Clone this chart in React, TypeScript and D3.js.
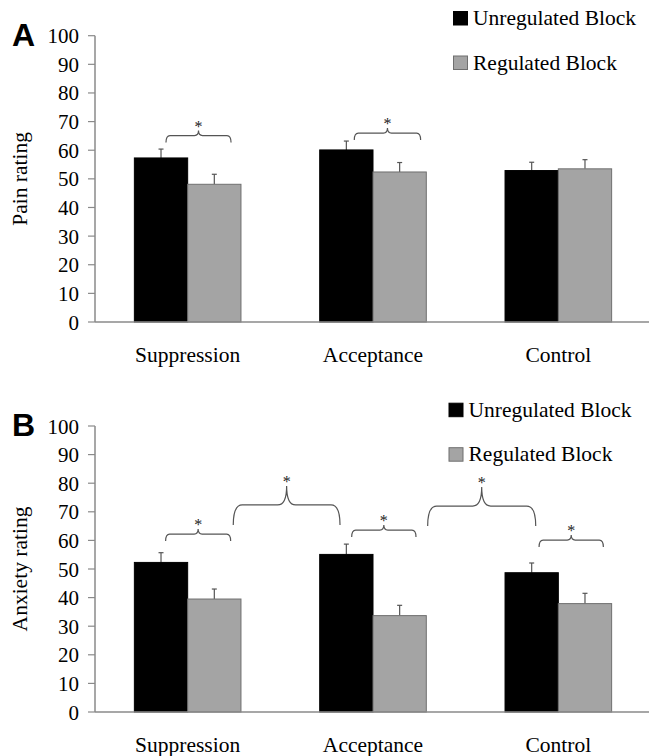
import * as d3 from 'd3'

// categories and series
const categories = ['Suppression', 'Acceptance', 'Control']
const seriesNames = ['Unregulated Block', 'Regulated Block']

// panel A: pain rating (mean, SE)
const painUnregulated = [57.3, 60.1, 52.9]
const painUnregulatedErr = [3.1, 3.1, 2.9]
const painRegulated = [48.1, 52.4, 53.5]
const painRegulatedErr = [3.5, 3.3, 3.2]

// panel B: anxiety rating (mean, SE)
const anxUnregulated = [52.3, 55.1, 48.7]
const anxUnregulatedErr = [3.4, 3.6, 3.4]
const anxRegulated = [39.5, 33.7, 37.9]
const anxRegulatedErr = [3.5, 3.6, 3.6]

const yTicks = [0, 10, 20, 30, 40, 50, 60, 70, 80, 90, 100]

// significance brackets: from/to in category units, level in rating units
const painBrackets = [
  { from: -0.117, to: 0.234, level: 65.1 },
  { from: 0.899, to: 1.257, level: 66.0 },
]
const anxBrackets = [
  { from: -0.119, to: 0.232, level: 62.2 },
  { from: 0.246, to: 0.822, level: 72.4 },
  { from: 0.885, to: 1.232, level: 63.6 },
  { from: 1.295, to: 1.878, level: 72.0 },
  { from: 1.896, to: 2.243, level: 60.1 },
]

const WIDTH = 649
const HEIGHT = 756
const AXIS_X = 95
const PLOT_RIGHT = 651
const SERIF = "'Liberation Serif', 'DejaVu Serif', serif"
const COLORS = ['#000000', '#a4a4a4']
const STROKES = ['#000000', '#6f6f6f']

function bracketPath(x1: number, x2: number, y: number, big: boolean) {
  const d = big ? 20 : 7
  const t = big ? 19 : 5
  const r = big ? 9 : 4
  const xm = (x1 + x2) / 2
  return [
    `M${x1},${y + d}`,
    `Q${x1},${y} ${x1 + r},${y}`,
    `L${xm - r},${y}`,
    `Q${xm},${y} ${xm},${y - t}`,
    `Q${xm},${y} ${xm + r},${y}`,
    `L${x2 - r},${y}`,
    `Q${x2},${y} ${x2},${y + d}`,
  ].join(' ')
}

function Panel({ letter, yLabel, top, bottom, series, errors, brackets, legendX, legendY }) {
  const xBand = d3.scaleBand().domain(categories).range([AXIS_X, PLOT_RIGHT])
  const step = xBand.bandwidth()
  const xSub = d3.scaleBand().domain(seriesNames).range([step / 2 - 53.3, step / 2 + 53.3])
  const xCat = d3.scaleLinear().domain([-0.5, categories.length - 0.5]).range([AXIS_X, PLOT_RIGHT])
  const y = d3.scaleLinear().domain([0, 100]).range([bottom, top])
  const serif = { fontFamily: SERIF }

  return (
    <g>
      <text x={12} y={top + 10} style={{ fontFamily: "'Liberation Sans', Arial, sans-serif" }} fontWeight="bold" fontSize={32}>
        {letter}
      </text>

      {/* bars */}
      {categories.map((cat, ci) => (
        <g key={cat} transform={`translate(${xBand(cat)},0)`}>
          {seriesNames.map((s, si) => {
            const v = series[si][ci]
            const e = errors[si][ci]
            const bx = xSub(s)
            const bw = xSub.bandwidth()
            const cx = bx + bw / 2
            return (
              <g key={s}>
                <line x1={cx} x2={cx} y1={y(v)} y2={y(v + e)} stroke="#555" strokeWidth={1.2} />
                <line x1={cx - 2.5} x2={cx + 2.5} y1={y(v + e)} y2={y(v + e)} stroke="#555" strokeWidth={1.2} />
                <rect x={bx} y={y(v)} width={bw} height={y(0) - y(v)} fill={COLORS[si]} stroke={STROKES[si]} strokeWidth={1} />
              </g>
            )
          })}
          <text x={step / 2} y={bottom + 39.5} textAnchor="middle" style={serif} fontSize={21.5}>
            {cat}
          </text>
        </g>
      ))}

      {/* axes */}
      <line x1={AXIS_X} x2={AXIS_X} y1={y(100)} y2={y(0)} stroke="#8a8a8a" strokeWidth={1.5} />
      <line x1={AXIS_X} x2={PLOT_RIGHT} y1={y(0)} y2={y(0)} stroke="#8a8a8a" strokeWidth={1.5} />
      {yTicks.map(t => (
        <g key={t} transform={`translate(0,${y(t)})`}>
          <line x1={AXIS_X - 7} x2={AXIS_X} stroke="#8a8a8a" strokeWidth={1.2} />
          <text x={AXIS_X - 16} y={7.5} textAnchor="end" style={serif} fontSize={21}>
            {t}
          </text>
        </g>
      ))}
      <text
        transform={`translate(27,${(y(0) + y(100)) / 2}) rotate(-90)`}
        textAnchor="middle"
        style={serif}
        fontSize={21.5}
      >
        {yLabel}
      </text>

      {/* significance brackets */}
      {brackets.map((b, i) => {
        const x1 = xCat(b.from)
        const x2 = xCat(b.to)
        const big = b.to - b.from > 0.45
        const ly = y(b.level)
        const tipY = ly - (big ? 19 : 5)
        return (
          <g key={i}>
            <path d={bracketPath(x1, x2, ly, big)} fill="none" stroke="#555" strokeWidth={1.2} />
            <text x={(x1 + x2) / 2} y={tipY + 1} textAnchor="middle" style={serif} fontSize={16} fill="#222">
              *
            </text>
          </g>
        )
      })}

      {/* legend */}
      {seriesNames.map((s, i) => (
        <g key={s} transform={`translate(${legendX},${legendY + i * 44.5})`}>
          <rect x={0} y={-13.5} width={14} height={13.5} fill={COLORS[i]} stroke={STROKES[i]} strokeWidth={1} />
          <text x={19.5} y={0} style={serif} fontSize={21.5}>
            {s}
          </text>
        </g>
      ))}
    </g>
  )
}

export default function App() {
  return (
    <svg
      width={WIDTH}
      height={HEIGHT}
      style={{ position: 'absolute', left: 0, top: 0, background: '#fff' }}
    >
      <Panel
        letter="A"
        yLabel="Pain rating"
        top={35.7}
        bottom={322}
        series={[painUnregulated, painRegulated]}
        errors={[painUnregulatedErr, painRegulatedErr]}
        brackets={painBrackets}
        legendX={453.5}
        legendY={25}
      />
      <Panel
        letter="B"
        yLabel="Anxiety rating"
        top={426}
        bottom={712}
        series={[anxUnregulated, anxRegulated]}
        errors={[anxUnregulatedErr, anxRegulatedErr]}
        brackets={anxBrackets}
        legendX={449}
        legendY={416.7}
      />
    </svg>
  )
}
